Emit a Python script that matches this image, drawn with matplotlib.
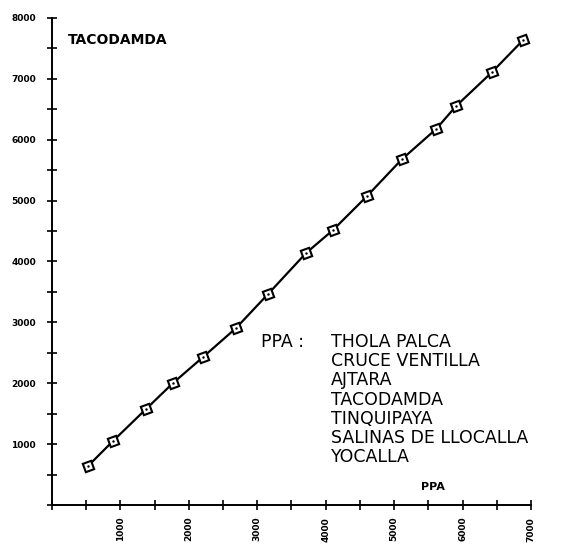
import matplotlib
matplotlib.use("Agg")
import matplotlib.pyplot as plt
import numpy as np

# values (x, y)
ppa_x = [526, 891, 1374, 1768, 2207, 2689, 3157, 3712, 4106, 4603, 5115, 5612, 5904, 6430, 6883]
ppa_y = [640, 1051, 1576, 2003, 2430, 2906, 3465, 4138, 4516, 5074, 5681, 6174, 6552, 7110, 7635]

x_ticks = [1000, 2000, 3000, 4000, 5000, 6000, 7000]
y_ticks = [1000, 2000, 3000, 4000, 5000, 6000, 7000, 8000]

title = "TACODAMDA"
stations = ["THOLA PALCA", "CRUCE VENTILLA", "AJTARA", "TACODAMDA",
            "TINQUIPAYA", "SALINAS DE LLOCALLA", "YOCALLA"]

fig = plt.figure(figsize=(5.69, 5.5), dpi=100)
ax = fig.add_axes([0.0914, 0.0818, 0.8418, 0.8855])

ax.plot(ppa_x, ppa_y, color="black", lw=1.6, zorder=2)
ax.plot(ppa_x, ppa_y, ls="none", marker=(4, 0, 65), ms=9, mfc="white",
        mec="black", mew=1.5, zorder=3)
ax.plot(ppa_x, ppa_y, ls="none", marker=".", ms=1.5, color="black", zorder=4)

ax.set_xlim(0, 7000)
ax.set_ylim(0, 8000)

for s in ["top", "right"]:
    ax.spines[s].set_visible(False)
for s in ["left", "bottom"]:
    ax.spines[s].set_linewidth(1.4)

ax.set_xticks(np.arange(0, 7001, 500), minor=True)
ax.set_yticks(np.arange(0, 8001, 500), minor=True)
ax.set_xticks(x_ticks)
ax.set_yticks(y_ticks)
ax.set_xticklabels([str(v) for v in x_ticks], rotation=90, fontsize=6.5,
                   fontweight="bold")
ax.set_yticklabels([str(v) for v in y_ticks], fontsize=6.5, fontweight="bold")
ax.tick_params(which="both", direction="inout", length=7, width=1.2)
ax.tick_params(axis="x", pad=5)
ax.tick_params(axis="y", pad=8)

ax.text(0.034, 0.955, title, transform=ax.transAxes, fontsize=10,
        fontweight="semibold", va="center", ha="left")

fig.text(261 / 569, 1 - 342 / 550, "PPA :", fontsize=12.5, va="center",
         ha="left", fontweight="medium")
for i, name in enumerate(stations):
    fig.text(331 / 569, 1 - (342 + 19.2 * i) / 550, name, fontsize=12.5,
             va="center", ha="left", fontweight="medium")

fig.text(433 / 569, 1 - 487 / 550, "PPA", fontsize=8, fontweight="bold",
         va="center", ha="center")

fig.savefig("out.png", dpi=100, facecolor="white")
